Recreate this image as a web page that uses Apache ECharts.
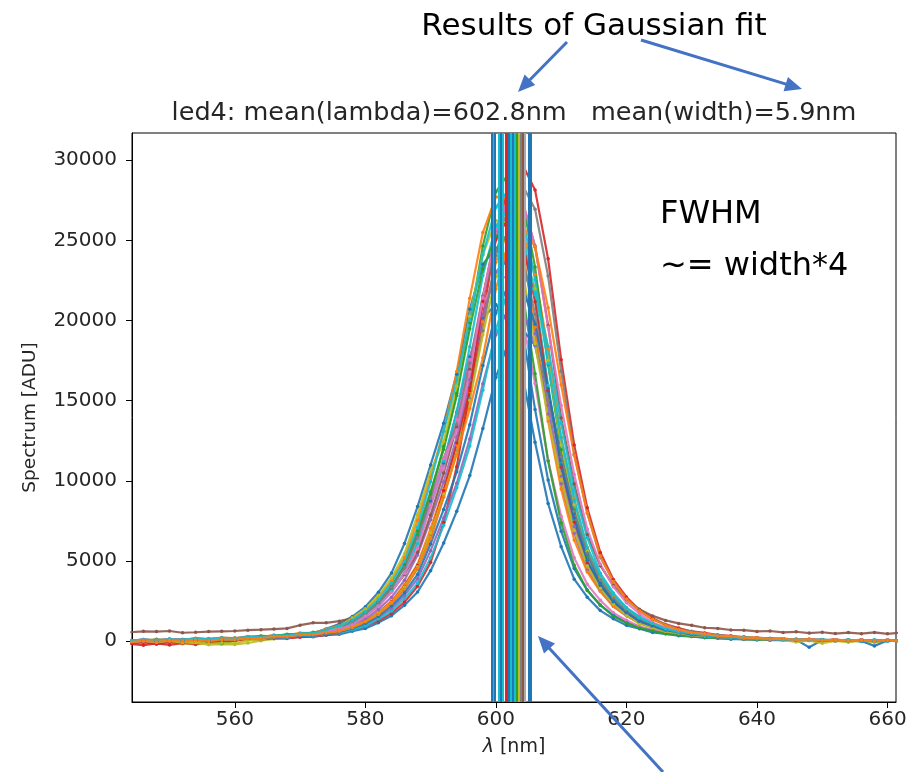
<!DOCTYPE html>
<html><head><meta charset="utf-8">
<script src="https://cdn.jsdelivr.net/npm/echarts@6/dist/echarts.min.js"></script>
<style>html,body{margin:0;padding:0;background:#fff}#c{width:910px;height:772px}</style>
</head><body><div id="c"></div>
<script>
// ---------------- data ----------------
const wavelengths = [544,546,548,550,552,554,556,558,560,562,564,566,568,570,572,574,576,578,580,582,584,586,588,590,592,594,596,598,600,602,604,606,608,610,612,614,616,618,620,622,624,626,628,630,632,634,636,638,640,642,644,646,648,650,652,654,656,658,660,662];

const specA = [-20,60,10,110,80,160,110,190,150,260, 230,330,300,430,440,680,850,1280,1700,2450, 3300,4750,6600,8740,11110,14300,17730,20170,21000,19850, 16790,12410,8590,5900,3870,2750,1910,1400,990,780, 550,460,340,300,210,210,130,150,80,110, 60,90,-380,70,10,80,-20,60,0,50];
const specB = [-30,40,90,40,20,140,90,190,130,260, 220,330,290,420,400,560,650,950,1270,1820, 2490,3540,4790,7040,9470,12240,15580,19910,23640,25740, 25610,22870,18220,12720,8860,5830,4050,2840,2050,1440, 1090,790,640,470,410,290,280,190,190,120, 140,80,110,50,90,30,80,20,70,30];
const specC = [-40,20,120,30,60,90,-60,-150,30,280, 330,310,440,430,560,650,920,1210,1740,2370, 3380,4590,6590,9180,12140,15460,19880,24650,28030,29200, 27590,23340,17250,11950,8200,5380,3820,2670,1950,1380, 1070,770,630,480,410,300,280,190,200,120, 150,80,120,40,100,30,90,10,80,20];
const specD = [-160,-250,-140,-230,-120,-200,-80,-20,40,110, 190,240,320,390,470,520,700,880,1260,1750, 2450,3420,4720,6700,9400,12360,15800,20250,25180,28610, 29800,28150,23850,17560,12240,8320,5530,3850,2760,1950, 1440,1050,820,610,520,380,340,250,230,160, 160,100,120,60,90,40,80,30,70,40];
const specE = [-80,-30,-100,0,-60,40,-10,80,90,210, 200,300,290,420,420,570,700,1020,1400,1990, 2740,3810,5380,7580,9940,12740,16300,20290,23030,24000, 22690,19180,14170,9820,6740,4420,3140,2190,1590,1130, 870,630,520,390,340,230,240,150,160,90, 120,60,90,30,70,20,60,10,50,0];
const specF = [560,620,600,640,530,560,600,620,640,690, 720,760,800,1000,1150,1150,1250,1430,1840,2360, 3120,4160,5540,7880,10490,13380,16950,21490,25480,27680, 27540,24650,19700,13930,9800,6640,4710,3480,2600,1990, 1580,1300,1110,990,840,800,700,690,610,640, 550,590,510,560,480,540,470,550,460,530];
const specG = [0,110,30,130,60,170,90,200,150,280, 220,330,300,420,400,620,790,1170,1570,2250, 3090,4280,6190,8420,10790,13820,17580,20950,22770,22660, 20250,16080,11290,7800,5200,3550,2550,1770,1310,920, 730,530,460,330,300,210,200,130,150,90, 110,50,90,20,70,10,60,0,50,10];
const specH = [80,10,110,40,130,60,170,100,200,170, 290,230,370,340,500,520,690,840,1220,1660, 2360,3260,4520,6390,9000,11810,15130,19360,24080,27360, 28500,26940,22780,16840,11670,8000,5250,3730,2600,1900, 1350,1050,750,620,460,400,290,280,190,190, 120,140,80,110,50,90,30,80,40,70];
const specI = [-60,-20,-90,-30,-150,-100,-220,-180,-200,-110, 30,140,200,330,380,480,620,900,1230,1750, 2420,3390,4640,6740,9150,11740,15020,19120,22750,24750, 24630,21990,17520,12240,8520,5610,3900,2730,1970,1380, 1050,760,620,460,400,280,270,180,190,100, 140,60,110,30,90,-20,80,-70,70,-30];
const specJ = [20,90,40,110,80,150,120,190,180,250, 280,330,380,420,520,600,830,1120,1600,2200, 3120,4260,6090,8500,11220,14300,18370,22810,25920,27000, 25530,21590,15950,11060,7580,4980,3530,2460,1790,1290, 980,720,580,450,370,290,250,190,170,120, 120,80,90,50,70,40,60,30,60,20];
const specK = [-30,50,-10,70,10,110,20,130,80,170, 150,230,200,290,280,380,430,620,800,1160, 1590,2250,3070,4400,6130,8100,10330,13270,16470,18720, 19500,18440,15590,11520,7980,5470,3600,2550,1770,1300, 930,710,510,420,310,280,190,200,120,140, 80,110,60,90,30,70,20,-290,40,30];
const specL = [30,110,60,150,90,190,140,230,200,300, 260,390,370,520,510,760,960,1420,1920,2740, 3760,5200,7540,10240,13140,16820,21400,25490,27720,27580, 24650,19580,13740,9500,6320,4320,3100,2160,1590,1130, 890,650,550,400,360,250,240,160,170,100, 130,60,100,40,80,30,70,20,60,10];
const specM = [-20,50,10,90,20,60,-80,-120,60,200, 290,350,400,460,530,640,900,1270,1750,2480, 3430,4730,6870,9330,11970,15320,19490,23220,25250,24990, 21940,16680,11240,7380,4740,3170,2260,1560,1130,820, 650,460,390,290,250,180,170,110,120,70, 90,30,70,10,60,-10,50,0,40,-10];
const specN = [-130,-70,-190,-60,-140,0,-100,40,60,120, 110,190,170,250,290,400,520,730,940,1280, 1740,2450,3430,4920,7410,10880,15620,21210,25040,26500, 25050,21180,15660,10850,7440,4880,3470,2420,1770,1250, 970,700,580,430,380,270,260,170,180,110, 130,70,100,40,80,20,70,10,60,0];
const specO = [-80,0,-70,30,-40,60,0,90,100,190, 160,250,210,340,300,470,520,780,1030,1470, 2020,2860,3900,5650,7690,9850,12620,16060,19120,20790, 20690,18460,14720,10270,7160,4710,3280,2290,1660,1160, 880,630,530,370,350,220,240,130,170,80, 120,50,90,20,70,10,60,-10,50,10];
const specP = [10,80,20,100,50,130,70,160,110,210, 170,270,230,350,330,470,520,720,950,1380, 1870,2670,3610,5200,7230,9570,12170,15660,19430,22080, 23000,21750,18380,13590,9410,6460,4240,3010,2100,1540, 1080,850,600,500,370,330,230,230,150,170, 90,130,60,100,40,80,30,70,20,60];
const specQ = [40,110,50,130,90,160,120,200,160,260, 230,330,310,450,440,620,880,1230,1720,2400, 3350,4600,6500,8900,11400,13520,17340,21550,24480,25500, 24100,20400,15050,11500,8100,5500,3850,2700,1900,1380, 940,670,560,410,360,260,250,170,170,110, 130,70,100,40,80,20,70,30,60,20];
const specR = [-40,30,-60,20,-90,-20,-160,-110,-140,60, 120,250,300,400,480,620,900,1460,2020,2850, 3950,5450,7900,10600,12460,15900,20270,24120,26240,26100, 23320,18550,13900,10100,6900,4700,3300,2300,1620,1090, 840,620,520,380,330,250,220,160,150,100, 60,-40,30,-120,20,-60,40,-30,50,0];
const specS = [10,80,0,100,40,130,60,150,120,200, 190,260,260,350,360,470,580,800,1120,1560, 2190,3030,4170,6070,8220,10570,13510,17200,20480,22280, 22160,19790,15760,11010,7670,5040,3510,2460,1780,1240, 950,680,560,410,360,250,240,160,170,100, 120,60,100,40,80,30,70,10,60,20];
const specT = [20,100,40,130,70,150,100,190,160,250, 220,330,320,440,450,600,760,1010,1570,2160, 3050,4230,5800,8470,11400,13160,16800,21420,25480,27720, 27580,24640,19600,14700,10400,7000,4800,3400,2400,1720, 1170,850,690,510,440,320,300,200,200,130, 150,90,120,60,100,40,80,30,70,20];
const specU = [30,100,50,120,90,170,130,210,180,270, 250,350,350,470,500,700,950,1320,1860,2590, 3630,5000,7100,9950,13100,16300,20000,24100,27070,28200, 26650,22560,17300,12700,8800,5850,4100,2900,2050,1480, 1100,770,580,490,370,320,240,220,160,150, 110,110,70,90,40,70,30,60,20,50];
const specV = [-50,20,-40,60,-10,80,20,110,90,170, 190,280,280,390,400,520,620,840,1220,1670, 2370,3280,4570,6430,9020,11680,14500,17680,21970,24960, 26000,24570,20800,16000,11600,8000,5300,3720,2630,1890, 1370,1000,720,530,460,330,310,210,210,140, 150,90,120,60,90,40,70,30,60,30];
const specW = [0,70,10,90,50,120,80,170,130,220, 210,320,300,440,500,770,1080,1540,2150,3050, 4250,6100,8400,11000,13600,16660,20700,23520,24500,23150, 19600,14460,10050,6860,4530,3190,2250,1620,1180,880, 680,490,440,310,290,200,200,130,140,80, 110,50,90,20,70,10,60,0,50,10];

// fitted centre wavelength of each spectrum (vertical lines), nm
const fitMeans = [599.3,599.6,599.9,600.5,600.8,601.1,601.45,601.75,602.0,602.3,602.6,602.9,603.2,603.5,603.8,604.1,604.4,605.0,605.3];

const xTicks = [560,580,600,620,640,660];
const yTicks = [0,5000,10000,15000,20000,25000,30000];
const titleText = 'led4: mean(lambda)=602.8nm   mean(width)=5.9nm';
const xLabel = '{i|λ} [nm]';
const yLabel = 'Spectrum [ADU]';

// ---------------- styles ----------------
const spectra = [specW,specA,specB,specC,specD,specE,specF,specG,specH,specI,specJ,specK,specL,specM,specN,specO,specP,specQ,specR,specS,specT,specU,specV];
const specColors = ['#1f77b4','#1f77b4','#ff7f0e','#2ca02c','#d62728','#9467bd','#8c564b','#e377c2','#7f7f7f','#bcbd22','#17becf','#1f77b4','#ff7f0e','#2ca02c','#d62728','#9467bd','#17becf','#7f7f7f','#bcbd22','#1f77b4','#e377c2','#17becf','#ff7f0e'];
const vColors = ['#1f77b4','#17becf','#1f77b4','#17becf','#1f77b4','#17becf','#d62728','#d62728','#1f77b4','#17becf','#1f77b4','#17becf','#2ca02c','#bcbd22','#7f7f7f','#8c564b','#a9a9a9','#1f77b4','#1f77b4'];
const ARROW = '#4472c4';
const FONT = 'DejaVu Sans';
const TXT = '#262626';

function arrow(x1,y1,x2,y2){
  const a = Math.atan2(y2-y1,x2-x1), L=17, W=7.5;
  const bx = x2-L*Math.cos(a), by = y2-L*Math.sin(a);
  const px = -Math.sin(a)*W, py = Math.cos(a)*W;
  return [
    {type:'line', z:100, shape:{x1:x1,y1:y1,x2:bx+Math.cos(a)*2,y2:by+Math.sin(a)*2}, style:{stroke:ARROW,lineWidth:3}},
    {type:'polygon', z:100, shape:{points:[[x2,y2],[bx+px,by+py],[bx-px,by-py]]}, style:{fill:ARROW}}
  ];
}

const series = spectra.map((ys,k)=>({
  type:'line',
  data: wavelengths.map((x,i)=>[x, ys[i]]),
  symbol:'circle', symbolSize:3.5, showSymbol:true,
  lineStyle:{width:2.2, color:specColors[k], opacity:0.9},
  itemStyle:{color:specColors[k]},
  z:2, animation:false, clip:true
}));
series.push({
  type:'line', data:[], z:5, animation:false,
  markLine:{
    silent:true, symbol:['none','none'], label:{show:false}, animation:false,
    data: fitMeans.map((v,k)=>({xAxis:v, lineStyle:{color:vColors[k], width:2, type:'solid', opacity:1}}))
  }
});

const chart = echarts.init(document.getElementById('c'), null, {renderer:'canvas'});
chart.setOption({
  animation:false,
  backgroundColor:'#fff',
  title:{text:titleText, left:509, top:95, textAlign:'center',
    textStyle:{fontFamily:FONT, fontSize:25.5, fontWeight:'normal', color:TXT}},
  grid:{left:132, right:14, top:133, bottom:70, show:true, borderColor:'#000', borderWidth:1, backgroundColor:'transparent'},
  xAxis:{
    type:'value', min:544.25, max:661.3,
    name:xLabel, nameLocation:'middle', nameGap:36,
    nameTextStyle:{fontFamily:FONT, fontSize:19, color:TXT, rich:{i:{fontFamily:FONT, fontStyle:'italic', fontSize:19, color:TXT}}},
    axisLine:{show:true, onZero:false, lineStyle:{color:'#000', width:1}},
    axisTick:{show:true, length:6, lineStyle:{color:'#000'}, customValues:xTicks},
    axisLabel:{customValues:xTicks, fontFamily:FONT, fontSize:20, color:TXT, margin:8, formatter:v=>String(v)},
    splitLine:{show:false}
  },
  yAxis:{
    type:'value', min:-3790, max:31700,
    name:yLabel, nameLocation:'middle', nameGap:92, nameRotate:90,
    nameTextStyle:{fontFamily:FONT, fontSize:18.5, color:TXT},
    axisLine:{show:true, onZero:false, lineStyle:{color:'#000', width:1}},
    axisTick:{show:true, length:6, lineStyle:{color:'#000'}, customValues:yTicks},
    axisLabel:{customValues:yTicks, fontFamily:FONT, fontSize:20, color:TXT, margin:15, formatter:v=>String(v)},
    splitLine:{show:false}
  },
  series: series,
  graphic: [
    {type:'text', z:100, x:594, y:27, style:{text:'Results of Gaussian fit', fontFamily:FONT, fontSize:31, fill:'#000', textAlign:'center', textVerticalAlign:'middle', align:'center', verticalAlign:'middle'}},
    {type:'text', z:100, x:660, y:215, style:{text:'FWHM', fontFamily:FONT, fontSize:32, fill:'#000', textAlign:'left', textVerticalAlign:'middle', align:'left', verticalAlign:'middle'}},
    {type:'text', z:100, x:660, y:267, style:{text:'~= width*4', fontFamily:FONT, fontSize:32, fill:'#000', textAlign:'left', textVerticalAlign:'middle', align:'left', verticalAlign:'middle'}},
    ...arrow(567,42,518,92),
    ...arrow(641,40,802,89),
    ...arrow(663,772,538,636)
  ]
});
</script></body></html>
